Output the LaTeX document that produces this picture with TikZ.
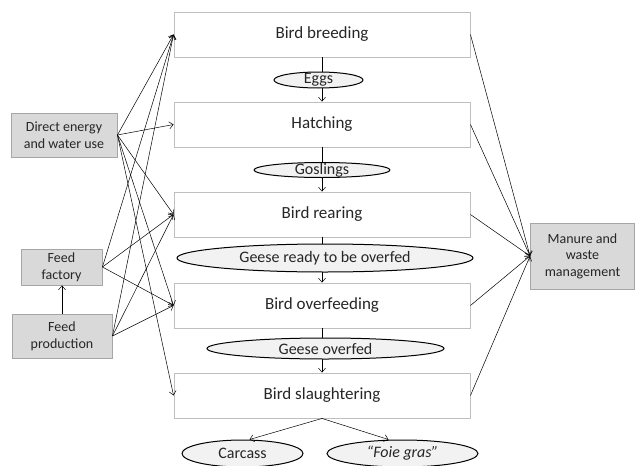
\documentclass[tikz,border=0pt]{standalone}
\usepackage{fontspec}
\setmainfont{Carlito}
\usetikzlibrary{arrows.meta,shapes.geometric}
\definecolor{boxline}{HTML}{BFBFBF}
\definecolor{sidefill}{HTML}{D9D9D9}
\definecolor{sideline}{HTML}{A6A6A6}
\definecolor{ellfill}{HTML}{F2F2F2}
\definecolor{txt}{HTML}{262626}
\begin{document}
\begin{tikzpicture}[x=1pt,y=-1pt,
 mainbox/.style={draw=boxline, line width=0.9pt, fill=white, minimum width=296pt, minimum height=45pt, inner sep=0pt, text=txt, font=\fontsize{17}{20}\selectfont},
 sidebox/.style={draw=sideline, line width=0.9pt, fill=sidefill, inner sep=0pt, align=center, text=txt, font=\fontsize{14}{17}\selectfont},
 ell/.style={ellipse, draw=black, line width=1pt, fill=ellfill, inner sep=0pt},
 elltext/.style={inner sep=0pt, text=txt, font=\fontsize{16}{19}\selectfont},
 arr/.style={-{Straight Barb[length=4pt,width=7pt]}, line width=0.5pt},
]
\useasboundingbox (0,0) rectangle (635,466);
% main boxes
\node[mainbox] (b1) at (322,34.5) {Bird breeding};
\node[mainbox] (b2) at (322,124.5) {Hatching};
\node[mainbox] (b3) at (322,214.5) {Bird rearing};
\node[mainbox] (b4) at (322,305.5) {Bird overfeeding};
\node[mainbox] (b5) at (322,395.5) {Bird slaughtering};
% side boxes
\node[sidebox, minimum width=106pt, minimum height=44pt] (de) at (64,135) {Direct energy\\and water use};
\node[sidebox, minimum width=81pt, minimum height=36pt] (ff) at (61.5,267) {Feed\\factory};
\node[sidebox, minimum width=100pt, minimum height=44pt] (fp) at (62,336) {Feed\\production};
\node[sidebox, minimum width=104pt, minimum height=66pt, font=\fontsize{14}{16.5}\selectfont] (mw) at (582.5,256) {Manure and\\waste\\management};
% vertical flow
\draw[arr] (b1) -- (b2);
\draw[arr] (b2) -- (b3);
\draw[arr] (b3) -- (b4);
\draw[arr] (b4) -- (b5);
% ellipses
\node[ell, minimum width=89pt, minimum height=16pt] (eggs) at (318.5,80) {};
\node[elltext] at (eggs) {Eggs};
\node[ell, minimum width=136pt, minimum height=15pt] (gosl) at (322,170) {};
\node[elltext] at (gosl) {Goslings};
\node[ell, minimum width=296pt, minimum height=28pt] (ready) at (325,258) {};
\node[elltext] at (ready) {Geese ready to be overfed};
\node[ell, minimum width=237pt, minimum height=21pt] (overf) at (325.5,348.5) {};
\node[elltext] at (overf) {Geese overfed};
\node[ell, minimum width=121pt, minimum height=27pt] (carc) at (242.5,453.5) {};
\node[elltext] at (carc) {Carcass};
\node[ell, minimum width=151pt, minimum height=27pt] (foie) at (402.5,453.5) {};
\node[elltext] at (foie) {\itshape “Foie gras”};
% products
\draw[arr] (b5.south) -- ([xshift=7pt]carc.north);
\draw[arr] (b5.south) -- ([xshift=-14pt]foie.north);
% inputs
\draw[arr] (fp.north) -- (fp.north |- ff.south);
\foreach \t in {b1,b2,b3,b4,b5} \draw[arr] (de.east) -- (\t.west);
\foreach \t in {b1,b3,b4} \draw[arr] (ff.east) -- (\t.west);
\foreach \t in {b1,b3,b4} \draw[arr] (fp.east) -- (\t.west);
% outputs
\foreach \s in {b1,b2,b3,b4,b5} \draw[arr] (\s.east) -- (mw.west);
\end{tikzpicture}
\end{document}
